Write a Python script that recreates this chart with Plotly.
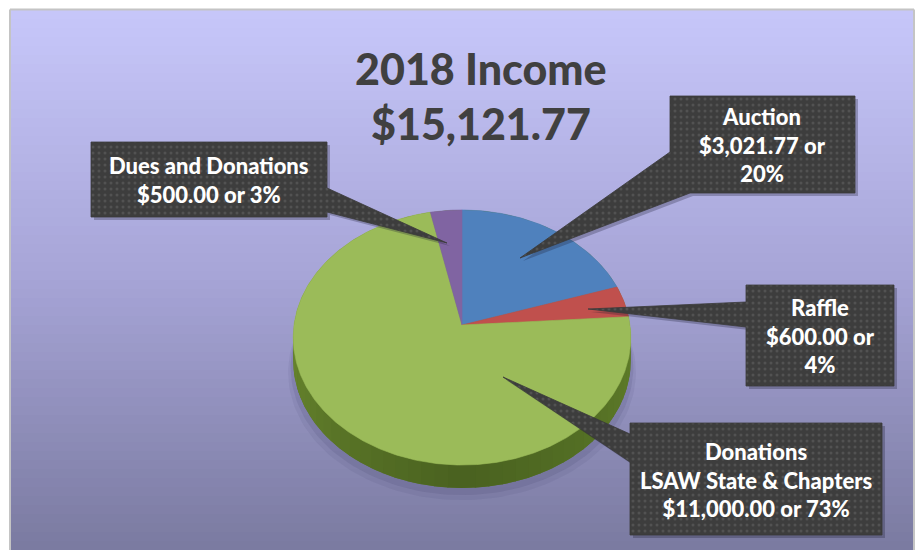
import numpy as np
import plotly.graph_objects as go

# ---------------- data ----------------
categories = ["Auction", "Raffle", "Donations LSAW State & Chapters", "Dues and Donations"]
values = [3021.77, 600.00, 11000.00, 500.00]
slice_colors = ["#4f81bd", "#c0504d", "#9bbb59", "#8064a2"]
callout_heads = [["Auction"], ["Raffle"], ["Donations", "LSAW State & Chapters"], ["Dues and Donations"]]
title_year = "2018 Income"

total = sum(values)
pcts = [v / total * 100 for v in values]

def money(v):
    return "${:,.2f}".format(v)

callout_texts = [
    "<br>".join(callout_heads[0] + [money(values[0]) + " or", "{:.0f}%".format(pcts[0])]),
    "<br>".join(callout_heads[1] + [money(values[1]) + " or", "{:.0f}%".format(pcts[1])]),
    "<br>".join(callout_heads[2] + [money(values[2]) + " or {:.0f}%".format(pcts[2])]),
    "<br>".join(callout_heads[3] + [money(values[3]) + " or {:.0f}%".format(pcts[3])]),
]

# ---------------- geometry (pixel-like axes) ----------------
W, H = 918, 550
CX, CY = 462.0, 325.0     # apex of the pie
A, B, K = 168.0, 126.3, 0.098   # perspective ellipse parameters
DEPTH = 23.0

def proj(theta_deg, dy=0.0):
    t = np.radians(np.asarray(theta_deg, dtype=float))
    u = np.sin(t)
    v = -np.cos(t)
    d = 1 - K * v
    return CX + A * u / d, CY + B * v / d + dy

fig = go.Figure()

# soft shadow
for off, alpha, sc in [(12, 0.07, 1.03), (7, 0.10, 1.015)]:
    th = np.linspace(0, 360, 181)
    sx, sy = proj(th, DEPTH + off)
    sx = CX + (sx - CX) * sc
    fig.add_trace(go.Scatter(x=sx, y=sy, fill="toself", mode="lines",
                             line=dict(width=0), fillcolor=f"rgba(40,40,80,{alpha})",
                             hoverinfo="skip", showlegend=False))

# side of the disc (full silhouette as base)
thL, thR = 264.4, 95.6
bot = np.linspace(thR, thL, 120)
top = np.linspace(thL, thR + 360, 240)
bx, by = proj(bot, DEPTH)
tx, ty = proj(top)
fig.add_trace(go.Scatter(x=np.concatenate([bx, tx]), y=np.concatenate([by, ty]),
                         fill="toself", mode="lines", line=dict(width=0),
                         fillcolor="#587526", hoverinfo="skip", showlegend=False))

# shaded strips of the side
side_stops = [(95.6, (95, 125, 42)), (180.0, (74, 98, 32)), (264.4, (104, 134, 46))]
nstrip = 40
for i in range(nstrip):
    a0 = thR + (thL - thR) * i / nstrip
    a1 = thR + (thL - thR) * (i + 1) / nstrip + 0.3
    am = (a0 + a1) / 2
    if am <= 180:
        f = (am - 95.6) / (180 - 95.6)
        c = np.array(side_stops[0][1]) + (np.array(side_stops[1][1]) - np.array(side_stops[0][1])) * f
    else:
        f = (am - 180) / (264.4 - 180)
        c = np.array(side_stops[1][1]) + (np.array(side_stops[2][1]) - np.array(side_stops[1][1])) * f
    arc = np.linspace(a0, a1, 4)
    ux, uy = proj(arc)
    lx, ly = proj(arc[::-1], DEPTH)
    fig.add_trace(go.Scatter(x=np.concatenate([ux, lx]), y=np.concatenate([uy, ly]),
                             fill="toself", mode="lines", line=dict(width=0),
                             fillcolor="rgb({},{},{})".format(*[int(v) for v in c]),
                             hoverinfo="skip", showlegend=False))

# top face slices
start = 0.0
for cat, val, col in zip(categories, values, slice_colors):
    span = val / total * 360.0
    th = np.linspace(start, start + span, max(int(span * 2), 4))
    px, py = proj(th)
    xs = np.concatenate([[CX], px, [CX]])
    ys = np.concatenate([[CY], py, [CY]])
    fig.add_trace(go.Scatter(x=xs, y=ys, fill="toself", mode="lines",
                             line=dict(width=0.6, color=col), fillcolor=col,
                             name=cat, hoverinfo="skip", showlegend=False))
    start += span

# ---------------- callouts ----------------
callouts = [
    dict(poly=[(670, 96), (855, 96), (855, 193), (690, 193), (520, 258), (670, 152)],
         c=(762.5, 145)),
    dict(poly=[(746, 285), (894, 285), (894, 386), (746, 386), (746, 327), (588, 309), (746, 302)],
         c=(820, 336)),
    dict(poly=[(630, 423), (882, 423), (882, 535), (630, 535), (630, 462), (503, 377), (630, 434)],
         c=(756, 480)),
    dict(poly=[(91, 142), (327, 142), (327, 188), (447, 243), (327, 212), (327, 217), (91, 217)],
         c=(209, 180)),
]

for co in callouts:
    xs = [p[0] for p in co["poly"]] + [co["poly"][0][0]]
    ys = [p[1] for p in co["poly"]] + [co["poly"][0][1]]
    fig.add_trace(go.Scatter(x=[x + 3 for x in xs], y=[y + 3 for y in ys], fill="toself",
                             mode="lines", line=dict(width=0), fillcolor="rgba(30,30,50,0.28)",
                             hoverinfo="skip", showlegend=False))
    fig.add_trace(go.Scatter(x=xs, y=ys, fill="toself", mode="lines",
                             line=dict(width=0.8, color="#3a3a3a"), fillcolor="#3d3d3d",
                             fillpattern=dict(shape=".", fgcolor="#525252", bgcolor="#3d3d3d",
                                              size=6, solidity=0.2, fillmode="replace"),
                             hoverinfo="skip", showlegend=False))

for co, txt in zip(callouts, callout_texts):
    fig.add_annotation(x=co["c"][0], y=co["c"][1], text=txt, showarrow=False,
                       xanchor="center", yanchor="middle", align="center",
                       font=dict(family="Lato, Open Sans, sans-serif", size=22,
                                 color="white", weight=900))

# title
fig.add_annotation(x=481, y=68, text=title_year, showarrow=False, xanchor="center", yanchor="middle",
                   font=dict(family="Lato, Open Sans, sans-serif", size=43, color="#404040", weight=900))
fig.add_annotation(x=481, y=123, text=money(total), showarrow=False, xanchor="center", yanchor="middle",
                   font=dict(family="Lato, Open Sans, sans-serif", size=43, color="#404040", weight=900))

# ---------------- background gradient ----------------
shapes = []
c_top = np.array([199, 199, 250])
c_mid = np.array([166, 164, 214])
c_bot = np.array([122, 122, 160])
n = 60
y0, y1 = 10, 550
for i in range(n):
    f = (i + 0.5) / n
    if f < 0.5:
        c = c_top + (c_mid - c_top) * (f / 0.5)
    else:
        c = c_mid + (c_bot - c_mid) * ((f - 0.5) / 0.5)
    ya = y0 + (y1 - y0) * i / n
    yb = y0 + (y1 - y0) * (i + 1) / n + 0.6
    shapes.append(dict(type="rect", xref="x", yref="y", x0=10, x1=914, y0=ya, y1=yb,
                       fillcolor="rgb({},{},{})".format(*[int(round(v)) for v in c]),
                       line=dict(width=0), layer="below"))
for (xa, ya, xb, yb) in [(10, 9.5, 914, 9.5), (10, 9.5, 10, 550), (914, 9.5, 914, 550)]:
    shapes.append(dict(type="line", xref="x", yref="y", x0=xa, y0=ya, x1=xb, y1=yb,
                       line=dict(color="#c4c4c4", width=2), layer="above"))

fig.update_layout(
    width=W, height=H,
    margin=dict(l=0, r=0, t=0, b=0),
    paper_bgcolor="white", plot_bgcolor="white",
    xaxis=dict(range=[0, W], visible=False, fixedrange=True),
    yaxis=dict(range=[H, 0], visible=False, fixedrange=True),
    shapes=shapes,
    showlegend=False,
)

fig.write_html("out.html", config={"displayModeBar": False},
               post_script="document.body.style.margin='0';document.body.style.overflow='hidden';")
